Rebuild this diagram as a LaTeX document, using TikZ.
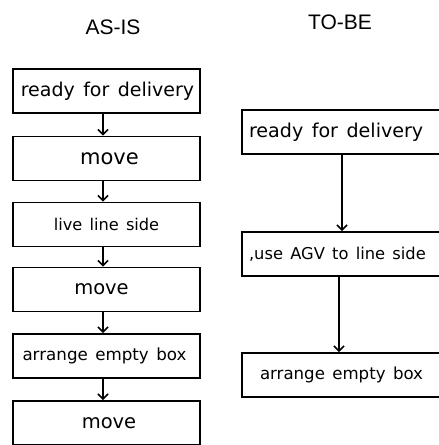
\documentclass[tikz,border=0pt]{standalone}
\usepackage{fontspec}
\setmainfont{DejaVu Sans}[WordSpace=1.4]
\newfontfamily\titlefont{Liberation Sans}
\usetikzlibrary{arrows.meta}
\newcommand{\fsz}[1]{\fontsize{#1pt}{#1pt}\selectfont}
% left-aligned line of text filling a wide box
\newcommand{\wideline}[1]{\makebox[204pt][l]{#1}}
\begin{document}
\begin{tikzpicture}[x=1pt,y=1pt,
  box/.style={draw=black, line width=1.8pt, inner sep=0pt,
    minimum width=187pt, minimum height=44pt},
  widebox/.style={draw=black, line width=1.8pt, inner ysep=0pt,
    inner xsep=7pt, minimum height=44pt},
  title/.style={font=\titlefont\fsz{21}},
  flow/.style={line width=1.6pt, -{Straight Barb[length=5pt,width=10pt]}}]
  % page frame: y runs downward as negative values
  \useasboundingbox (0,0) rectangle (439,-445);
  \clip (0,0) rectangle (439,-445);

  % column headings
  \node[title] (h1) at (113,-27.5) {AS-IS};
  \node[title] (h2) at (340,-22.5) {TO-BE};

  % current process
  \node[box] (a1) at (106.5,-91)    {\hspace*{2pt}\fsz{19}ready for delivery};
  \node[box] (a2) at (106.5,-158.5) {\hspace*{6pt}\fsz{21}move};
  \node[box] (a3) at (106.5,-224.5) {\fsz{16.2}live line side};
  \node[box] (a4) at (106.5,-289.5) {\hspace*{-10pt}\fsz{19.5}move};
  \node[box] (a5) at (106.5,-356)   {\hspace*{-4pt}\fsz{16.7}arrange empty box};
  \node[box] (a6) at (106.5,-423)   {\hspace*{5pt}\fsz{19.5}move};

  \draw[flow] ([xshift=-3.5pt]a1.south) -- ([xshift=-3.5pt]a2.north);
  \draw[flow] ([xshift=-3.5pt]a2.south) -- ([xshift=-3.5pt]a3.north);
  \draw[flow] ([xshift=-3.5pt]a3.south) -- ([xshift=-3.5pt]a4.north);
  \draw[flow] ([xshift=-3.5pt]a4.south) -- ([xshift=-3.5pt]a5.north);
  \draw[flow] ([xshift=-3.5pt]a5.south) -- ([xshift=-3.5pt]a6.north);

  % future process
  \node[widebox] (b1) at (351,-132) {\wideline{\fsz{19.1}ready for delivery}};
  \node[widebox] (b2) at (351,-254) {\wideline{\fsz{16.3},use AGV to line side}};
  \node[widebox] (b3) at (351,-375) {\wideline{\hspace*{11pt}\fsz{16.6}arrange empty box}};

  \draw[flow] ([xshift=-9pt]b1.south) -- ([xshift=-9pt]b2.north);
  \draw[flow] ([xshift=-12pt]b2.south) -- ([xshift=-12pt]b3.north);
\end{tikzpicture}
\end{document}
